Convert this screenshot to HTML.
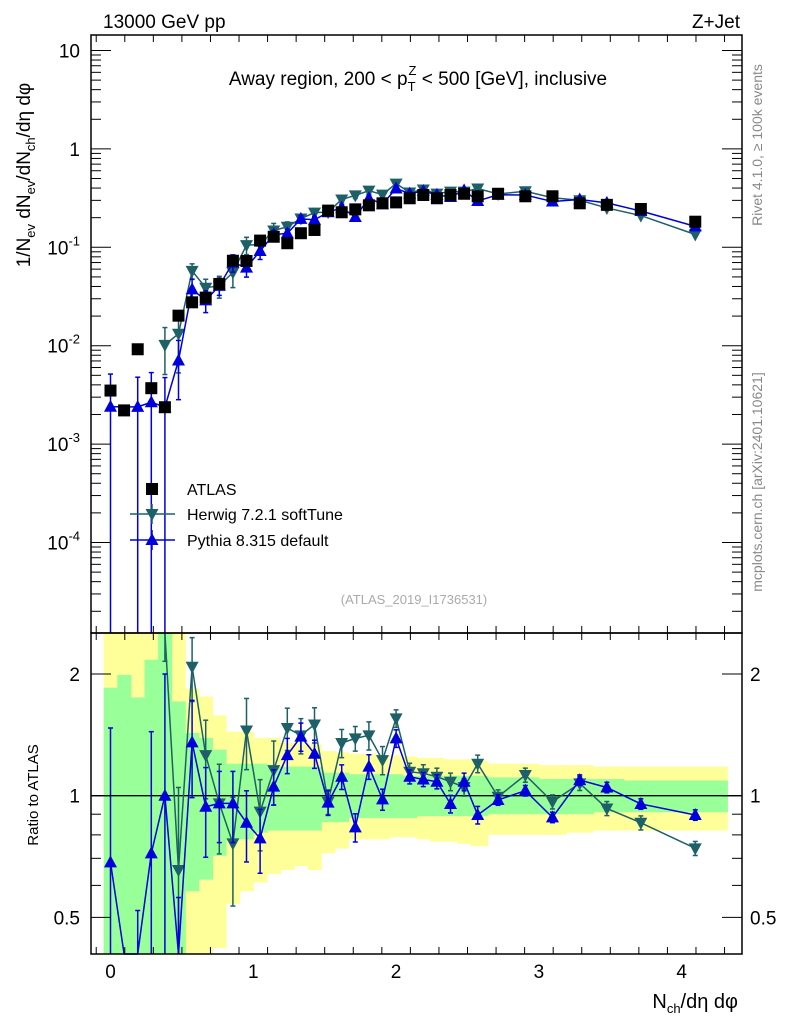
<!DOCTYPE html>
<html><head><meta charset="utf-8">
<style>
html,body{margin:0;padding:0;background:#fff;}
svg{display:block;font-family:"Liberation Sans",sans-serif;}
</style></head>
<body>
<svg id="chart" width="786" height="1024" viewBox="0 0 786 1024" xmlns="http://www.w3.org/2000/svg">
  <text x="103" y="28" font-size="19">13000 GeV pp</text>
  <text x="740" y="28" font-size="19" text-anchor="end">Z+Jet</text>
  <text x="418" y="85" font-size="19" text-anchor="middle">Away region, 200 &lt; p<tspan font-size="13" dy="6">T</tspan><tspan font-size="13" dx="-7" dy="-16">Z</tspan><tspan dy="10"> &lt; 500 [GeV], inclusive</tspan></text>
  <text transform="translate(762,145) rotate(-90)" font-size="14" fill="#888" text-anchor="middle">Rivet 4.1.0, ≥ 100k events</text>
  <text transform="translate(762,482) rotate(-90)" font-size="14" fill="#888" text-anchor="middle">mcplots.cern.ch [arXiv:2401.10621]</text>
  <text transform="translate(30,175) rotate(-90)" font-size="19" text-anchor="middle">1/N<tspan font-size="13" dy="5">ev</tspan><tspan dy="-5"> dN</tspan><tspan font-size="13" dy="5">ev</tspan><tspan dy="-5">/dN</tspan><tspan font-size="13" dy="5">ch</tspan><tspan dy="-5">/dη dφ</tspan></text>
  <text transform="translate(38,795) rotate(-90)" font-size="15" text-anchor="middle">Ratio to ATLAS</text>
  <text x="738" y="1008" font-size="20" text-anchor="end">N<tspan font-size="13" dy="5">ch</tspan><tspan dy="-5">/dη dφ</tspan></text>
  <text x="414" y="604" font-size="13" fill="#aaa" text-anchor="middle">(ATLAS_2019_I1736531)</text>
  <g id="ratio"></g>
  <g id="main"></g>
  <g id="axes"></g>
  <g id="legend"></g>
</svg>
<script>
const xVals = [0,0.0952,0.1905,0.2857,0.381,0.4762,0.5714,0.6667,0.7619,0.8571,0.9524,1.0476,1.1429,1.2381,1.3333,1.4286,1.5238,1.619,1.7143,1.8095,1.9048,2.0,2.0952,2.1905,2.2857,2.381,2.4762,2.5714,2.714,2.905,3.095,3.286,3.476,3.714,4.095];
const atlasVals = [3.5e-3,2.2e-3,9.2e-3,3.7e-3,2.37e-3,0.0202,0.0276,0.0308,0.0424,0.073,0.0726,0.117,0.128,0.11,0.139,0.15,0.236,0.227,0.243,0.267,0.28,0.286,0.315,0.34,0.315,0.34,0.35,0.33,0.35,0.33,0.33,0.28,0.27,0.245,0.182];
const herwigRatio = [null,null,null,null,4.3,0.655,2.085,1.26,0.957,0.762,1.45,0.913,1.157,1.47,1.41,1.50,0.966,1.35,1.386,1.41,1.225,1.553,1.146,1.136,1.114,1.083,1.05,1.20,0.994,1.125,0.966,1.073,0.93,0.857,0.741];
const pythiaRatio = [0.684,0,0.26,0.72,1.0,0.35,1.355,0.939,0.957,0.957,0.857,0.784,1.053,1.26,1.40,1.27,0.961,1.114,0.835,1.18,0.979,1.386,1.114,1.097,1.083,0.954,1.083,0.896,0.976,1.029,0.884,1.093,1.048,0.954,0.896];
const herwigErr = [0,0,0,0,0.5,0.6,0.18,0.22,0.25,0.3,0.2,0.2,0.18,0.12,0.1,0.1,0.07,0.08,0.07,0.08,0.08,0.05,0.05,0.05,0.05,0.05,0.05,0.05,0.04,0.04,0.04,0.04,0.04,0.04,0.04];
const pythiaErr = [1.15,0,1.0,1.0,1.0,0.6,0.27,0.25,0.2,0.2,0.2,0.18,0.1,0.1,0.08,0.08,0.07,0.07,0.08,0.07,0.06,0.05,0.04,0.04,0.04,0.05,0.05,0.05,0.03,0.03,0.03,0.03,0.03,0.03,0.03];
const greenTop = [1.85,1.99,1.75,2.17,3,1.71,1.43,1.39,1.30,1.20,1.20,1.20,1.18,1.18,1.18,1.18,1.14,1.14,1.13,1.13,1.13,1.13,1.12,1.12,1.12,1.12,1.12,1.12,1.11,1.11,1.10,1.10,1.10,1.09,1.09];
const greenBot = [0.3,0.3,0.3,0.3,0.3,0.3,0.58,0.62,0.71,0.78,0.78,0.81,0.82,0.82,0.82,0.82,0.86,0.86,0.88,0.88,0.88,0.88,0.88,0.89,0.89,0.89,0.89,0.89,0.9,0.9,0.9,0.9,0.91,0.91,0.91];
const yellowTop = [3,3,3,3,3,3,1.84,1.76,1.58,1.44,1.44,1.39,1.39,1.35,1.35,1.34,1.29,1.28,1.27,1.27,1.26,1.26,1.25,1.24,1.24,1.23,1.23,1.22,1.20,1.20,1.19,1.19,1.18,1.18,1.18];
const yellowBot = [0.3,0.3,0.3,0.3,0.3,0.3,0.3,0.3,0.42,0.54,0.58,0.61,0.64,0.655,0.67,0.655,0.72,0.74,0.78,0.78,0.78,0.79,0.79,0.78,0.77,0.77,0.76,0.75,0.8,0.8,0.8,0.81,0.82,0.82,0.82];
const xTicks = [0,1,2,3,4];
const mainTicks = [10,1,0.1,0.01,0.001,0.0001];
const mainTickLabels = ["10","1","10^-1","10^-2","10^-3","10^-4"];
const ratioTicks = [2,1,0.5];
const ratioTickLabels = ["2","1","0.5"];

const NS="http://www.w3.org/2000/svg";
const L=91,R=742,MT=35,MB=633,RB=954;
const X=v=>110.5+142.8*v;
const Ym=v=>247.3-98.4*Math.log10(v/0.1);
const Yr=r=>795.7-121.7*Math.log2(r);
function mk(tag,at,parent){const e=document.createElementNS(NS,tag);for(const k in at)e.setAttribute(k,at[k]);parent.appendChild(e);return e;}
const gR=document.getElementById('ratio'),gM=document.getElementById('main'),gA=document.getElementById('axes'),gL=document.getElementById('legend');
const clampM=y=>Math.max(MT,Math.min(MB,y)), clampR=y=>Math.max(MB,Math.min(RB,y));
const n=xVals.length;
function edges(i){const lo=i===0?xVals[0]-0.0476:(xVals[i-1]+xVals[i])/2;const hi=i===n-1?4.32:(xVals[i]+xVals[i+1])/2;return [lo,hi];}
[[yellowTop,yellowBot,'#ffff99','yellow-band'],[greenTop,greenBot,'#99ff99','green-band']].forEach(([t,b,c,nm])=>{
  for(let i=0;i<n;i++){const [lo,hi]=edges(i);const y1=clampR(Yr(t[i])),y2=clampR(Yr(b[i]));
    const r=mk('rect',{x:X(lo),y:y1,width:X(hi)-X(lo)+0.5,height:y2-y1,fill:c},gR);
    
    }
});
mk('line',{x1:L,x2:R,y1:Yr(1),y2:Yr(1),stroke:'#000','stroke-width':1.3},gR);
function marker(g,type,x,y,col){
  let e;
  if(type==='sq') e=mk('rect',{x:x-6,y:y-6,width:12,height:12,fill:col},g);
  else if(type==='up') e=mk('polygon',{points:`${x},${y-7} ${x-6.5},${y+5} ${x+6.5},${y+5}`,fill:col},g);
  else e=mk('polygon',{points:`${x},${y+7} ${x-6.5},${y-5} ${x+6.5},${y-5}`,fill:col},g);
  return e;
}
function series(vals,errs,col,type,panel,Yf,clamp,name,skipZero){
  const g=mk('g',{},panel);
  
  
  let pts=[];
  for(let i=0;i<n;i++){ if(vals[i]===null) continue; if(skipZero&&vals[i]<=0) continue;
    const v=vals[i]; const y=v>0?clamp(Yf(v)):clamp(1e4); pts.push(X(xVals[i])+','+y);}
  mk('polyline',{points:pts.join(' '),fill:'none',stroke:col,'stroke-width':1.5},g);
  for(let i=0;i<n;i++){ const v=vals[i]; if(v===null||v<=0) continue;
    const x=X(xVals[i]); const e=errs[i];
    if(e>0){const yu=clamp(Yf(v*(1+e))); const yl=v*(1-e)>0?clamp(Yf(v*(1-e))):clamp(1e4);
      mk('line',{x1:x,x2:x,y1:yu,y2:yl,stroke:col,'stroke-width':1.5},g);
      if(yu>MT&&yu!==MB) mk('line',{x1:x-2.5,x2:x+2.5,y1:yu,y2:yu,stroke:col,'stroke-width':1.5},g);
      if(yl<(panel===gM?MB:RB)) mk('line',{x1:x-2.5,x2:x+2.5,y1:yl,y2:yl,stroke:col,'stroke-width':1.5},g);}
    const y=Yf(v); const lo=panel===gM?MT:MB, hi=panel===gM?MB:RB;
    if(y>lo&&y<hi){const m=marker(g,type,x,y,col);
      
      }
  }
}
const herwigMain=herwigRatio.map((r,i)=>r===null?null:r*atlasVals[i]);
const pythiaMain=pythiaRatio.map((r,i)=>r*atlasVals[i]);
series(herwigRatio,herwigErr,'#1d6068','dn',gR,Yr,clampR,'herwig-ratio',false);
series(pythiaRatio,pythiaErr,'#0000dd','up',gR,Yr,clampR,'pythia-ratio',false);
series(herwigMain,herwigErr,'#1d6068','dn',gM,Ym,clampM,'herwig-series',true);
series(pythiaMain,pythiaErr,'#0000dd','up',gM,Ym,clampM,'pythia-series',true);
for(let i=0;i<n;i++){const m=marker(gM,'sq',X(xVals[i]),Ym(atlasVals[i]),'#000');
  
  }
mk('rect',{x:L,y:MT,width:R-L,height:MB-MT,fill:'none',stroke:'#000','stroke-width':1.5},gA);
mk('rect',{x:L,y:MB,width:R-L,height:RB-MB,fill:'none',stroke:'#000','stroke-width':1.5},gA);
for(let v=-0.1;v<=4.4;v+=0.2){const x=X(Math.round(v*10)/10); if(x<L||x>R) continue;
  const major=Math.abs(Math.round(v)-v)<0.01; const len=major?14:7;
  [[MT,1],[MB,-1],[MB,1],[RB,-1]].forEach(([y,d])=>mk('line',{x1:x,x2:x,y1:y,y2:y+d*len,stroke:'#000','stroke-width':1},gA));}
xTicks.forEach(v=>{const t=mk('text',{x:X(v),y:978,'font-size':19,'text-anchor':'middle'},gA);t.textContent=v;});
for(let d=-5;d<=1;d++){for(let k=1;k<10;k++){const v=k*Math.pow(10,d);const y=Ym(v); if(y<MT||y>MB) continue;
  const len=k===1?20:10; mk('line',{x1:L,x2:L+len,y1:y,y2:y,stroke:'#000'},gA); mk('line',{x1:R,x2:R-len,y1:y,y2:y,stroke:'#000'},gA);}}
mainTicks.forEach((v,i)=>{const y=Ym(v)+7;const lab=mainTickLabels[i];const t=mk('text',{x:80,y:y,'font-size':19,'text-anchor':'end'},gA);
  if(lab.indexOf('^')>0){const p=lab.split('^');t.textContent=p[0];const s=mk('tspan',{'font-size':13,dy:-9},t);s.textContent=p[1];}else t.textContent=lab;});
for(let d=-1;d<=0;d++){for(let k=1;k<10;k++){const v=k*Math.pow(10,d);const y=Yr(v);if(y<MB||y>RB) continue;
  const len=(v===1||v===2||v===0.5)?20:10; mk('line',{x1:L,x2:L+len,y1:y,y2:y,stroke:'#000'},gA); mk('line',{x1:R,x2:R-len,y1:y,y2:y,stroke:'#000'},gA);}}
ratioTicks.forEach((v,i)=>{const y=Yr(v)+7;
  const t=mk('text',{x:80,y:y,'font-size':19,'text-anchor':'end'},gA);t.textContent=ratioTickLabels[i];
  const t2=mk('text',{x:750,y:y,'font-size':19},gA);t2.textContent=ratioTickLabels[i];});
const lg=[['ATLAS','sq','#000',489],['Herwig 7.2.1 softTune','dn','#1d6068',514],['Pythia 8.315 default','up','#0000dd',540]];
lg.forEach(([lab,type,col,y])=>{const g=mk('g',{},gL);
  
  
  if(type!=='sq'){mk('line',{x1:130,x2:175,y1:y,y2:y,stroke:col,'stroke-width':1.5},g);mk('line',{x1:152,x2:152,y1:y-10,y2:y+10,stroke:col,'stroke-width':1.5},g);}
  marker(g,type,152,y,col);
  const t=mk('text',{x:187,y:y+6,'font-size':16},g);t.textContent=lab;});
</script>
</body></html>
